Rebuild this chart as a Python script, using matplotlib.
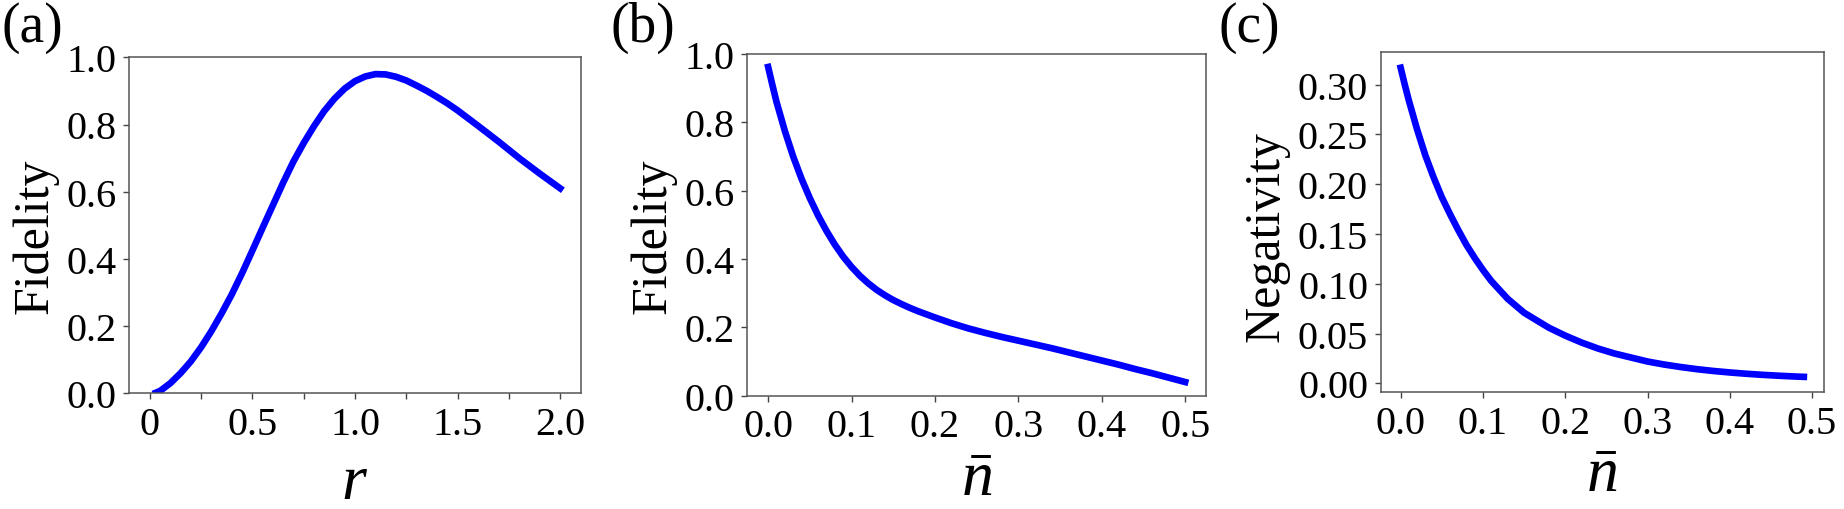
import matplotlib
matplotlib.use("Agg")
import matplotlib.pyplot as plt

plt.rcParams['font.family'] = ['Liberation Serif', 'DejaVu Serif']
plt.rcParams['mathtext.fontset'] = 'custom'
plt.rcParams['mathtext.rm'] = 'Liberation Serif'
plt.rcParams['mathtext.it'] = 'Liberation Serif:italic'
plt.rcParams['mathtext.bf'] = 'Liberation Serif:bold'

# (a) fidelity vs squeezing r
r = [0.03, 0.05, 0.1, 0.15, 0.2, 0.25, 0.3, 0.35, 0.4, 0.45, 0.5, 0.55, 0.6, 0.65,
     0.7, 0.75, 0.8, 0.85, 0.9, 0.95, 1.0, 1.05, 1.1, 1.15, 1.2, 1.25, 1.3, 1.35,
     1.4, 1.45, 1.5, 1.6, 1.7, 1.8, 1.9, 2.0]
fid_r = [0.002, 0.007, 0.03, 0.06, 0.095, 0.137, 0.185, 0.238, 0.295, 0.358, 0.425,
         0.493, 0.56, 0.627, 0.69, 0.745, 0.795, 0.84, 0.877, 0.907, 0.929, 0.943,
         0.95, 0.949, 0.942, 0.931, 0.916, 0.9, 0.882, 0.863, 0.842, 0.796, 0.749,
         0.70, 0.654, 0.61]

# (b) fidelity vs thermal photon number
nb = [0.0, 0.005, 0.01, 0.02, 0.03, 0.04, 0.05, 0.06, 0.07, 0.08, 0.09, 0.1, 0.11,
      0.12, 0.13, 0.14, 0.15, 0.16, 0.17, 0.18, 0.2, 0.22, 0.24, 0.26, 0.28, 0.3,
      0.32, 0.34, 0.36, 0.38, 0.4, 0.42, 0.44, 0.46, 0.48, 0.5]
fid_n = [0.962, 0.91, 0.86, 0.775, 0.70, 0.635, 0.578, 0.527, 0.482, 0.442, 0.407,
         0.377, 0.351, 0.329, 0.31, 0.294, 0.28, 0.268, 0.257, 0.247, 0.229, 0.212,
         0.197, 0.184, 0.172, 0.161, 0.15, 0.139, 0.127, 0.115, 0.103, 0.091, 0.078,
         0.066, 0.053, 0.04]

# (c) negativity vs thermal photon number
nc = [0.0, 0.005, 0.01, 0.02, 0.03, 0.04, 0.05, 0.06, 0.07, 0.08, 0.09, 0.1, 0.11,
      0.12, 0.13, 0.14, 0.15, 0.16, 0.17, 0.18, 0.19, 0.2, 0.22, 0.24, 0.26, 0.28,
      0.3, 0.32, 0.34, 0.36, 0.38, 0.4, 0.42, 0.44, 0.46, 0.48, 0.49]
neg = [0.317, 0.30, 0.284, 0.255, 0.229, 0.207, 0.187, 0.17, 0.154, 0.139, 0.126,
       0.114, 0.103, 0.094, 0.085, 0.078, 0.071, 0.066, 0.061, 0.056, 0.052, 0.048,
       0.041, 0.035, 0.03, 0.026, 0.022, 0.019, 0.0165, 0.0143, 0.0125, 0.011,
       0.0097, 0.0086, 0.0077, 0.0069, 0.0066]

W, H = 1844, 510
fig = plt.figure(figsize=(W / 100, H / 100), dpi=100)

def box(l, r_, t, b):
    return [l / W, 1 - b / H, (r_ - l) / W, (b - t) / H]

ax1 = fig.add_axes(box(129.3, 580.7, 58.3, 394.3))
ax2 = fig.add_axes(box(747.3, 1206.0, 55.0, 396.7))
ax3 = fig.add_axes(box(1380.5, 1824.0, 53.3, 393.3))

lw = 4.8
ax1.plot(r, fid_r, color='#0000ff', lw=lw)
ax2.plot(nb, fid_n, color='#0000ff', lw=lw)
ax3.plot(nc, neg, color='#0000ff', lw=lw)

ax1.set_xlim(-0.1, 2.1)
ax1.set_ylim(0, 1)
ax2.set_ylim(0, 1)
ax1.set_xticks([0, 0.25, 0.5, 0.75, 1.0, 1.25, 1.5, 1.75, 2.0])
ax1.set_xticklabels(['0', '', '0.5', '', '1.0', '', '1.5', '', '2.0'])
ax1.set_yticks([0, 0.2, 0.4, 0.6, 0.8, 1.0])
ax1.set_yticklabels(['0.0', '0.2', '0.4', '0.6', '0.8', '1.0'])
ax2.set_xticks([0, 0.1, 0.2, 0.3, 0.4, 0.5])
ax2.set_xticklabels(['0.0', '0.1', '0.2', '0.3', '0.4', '0.5'])
ax2.set_yticks([0, 0.2, 0.4, 0.6, 0.8, 1.0])
ax2.set_yticklabels(['0.0', '0.2', '0.4', '0.6', '0.8', '1.0'])
ax3.set_xticks([0, 0.1, 0.2, 0.3, 0.4, 0.5])
ax3.set_xticklabels(['0.0', '0.1', '0.2', '0.3', '0.4', '0.5'])
ax3.set_yticks([0, 0.05, 0.1, 0.15, 0.2, 0.25, 0.3])
ax3.set_yticklabels(['0.00', '0.05', '0.10', '0.15', '0.20', '0.25', '0.30'])

for ax in (ax1, ax2, ax3):
    ax.tick_params(labelsize=29, pad=5, length=4, width=1, color='#444444')
    for s in ax.spines.values():
        s.set_color('#555555')
        s.set_linewidth(1.1)

ax1.set_ylabel('Fidelity', fontsize=36, labelpad=6)
ax2.set_ylabel('Fidelity', fontsize=36, labelpad=6)
ax3.set_ylabel('Negativity', fontsize=36, labelpad=6)
ax1.yaxis.label.set_y(0.47)
ax2.yaxis.label.set_y(0.47)
ax3.yaxis.label.set_y(0.46)
ax1.set_xlabel('$r$', fontsize=46, labelpad=8)
ax2.set_xlabel(r'$\bar{n}$', fontsize=46, labelpad=4)
ax3.set_xlabel(r'$\bar{n}$', fontsize=46, labelpad=4)

fig.text(1 / W, 1 - 2 / H, '(a)', fontsize=40, ha='left', va='top')
fig.text(610 / W, 1 - 2 / H, '(b)', fontsize=40, ha='left', va='top')
fig.text(1218 / W, 1 - 2 / H, '(c)', fontsize=40, ha='left', va='top')

fig.savefig('out.png', dpi=100)
